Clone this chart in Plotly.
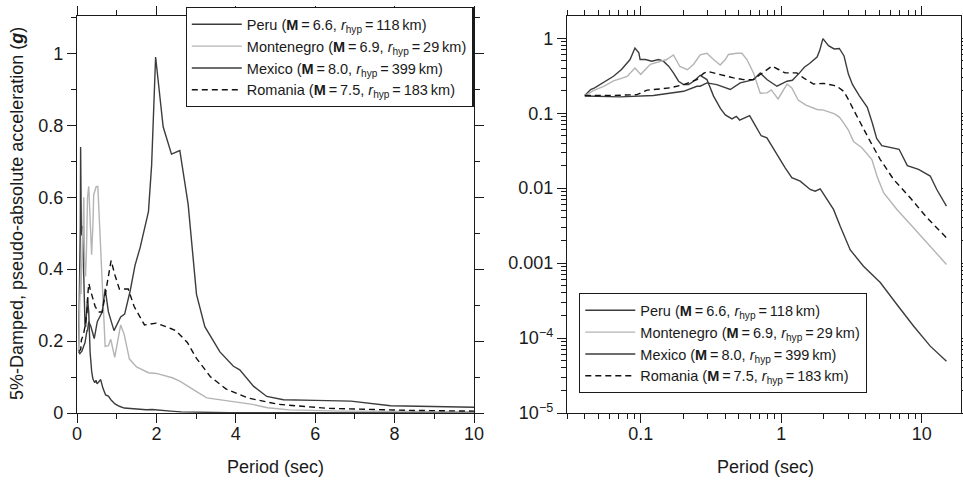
import plotly.graph_objects as go

# ---------------- data ----------------
peru_T = [0.040, 0.044, 0.047, 0.054, 0.064, 0.073, 0.084, 0.091, 0.097, 0.099, 0.108, 0.120,
          0.134, 0.145, 0.158, 0.171, 0.186, 0.202, 0.219, 0.238, 0.251, 0.265, 0.296, 0.330,
          0.370, 0.400, 0.446, 0.479, 0.506, 0.596, 0.650, 0.720, 0.791, 0.859, 0.957, 1.067,
          1.19, 1.365, 1.607, 1.745, 1.895, 2.056, 2.356, 2.63, 3.1, 3.85, 5.07, 6.66, 8.74,
          11.5, 15.0]
peru_A = [0.172, 0.207, 0.218, 0.254, 0.311, 0.383, 0.520, 0.740, 0.638, 0.520, 0.520, 0.494,
          0.520, 0.494, 0.424, 0.345, 0.267, 0.241, 0.241, 0.267, 0.296, 0.320, 0.281, 0.169,
          0.115, 0.095, 0.084, 0.091, 0.081, 0.093, 0.070, 0.050, 0.047, 0.0363, 0.0254, 0.0187,
          0.0138, 0.0124, 0.0096, 0.0091, 0.0098, 0.0077, 0.0052, 0.0031, 0.0015, 0.00091,
          0.00055, 0.00028, 0.000145, 0.000078, 0.000049]

mont_T = [0.040, 0.046, 0.055, 0.064, 0.072, 0.080, 0.091, 0.100, 0.117, 0.138, 0.153, 0.171,
          0.190, 0.215, 0.238, 0.265, 0.296, 0.330, 0.368, 0.400, 0.421, 0.484, 0.525, 0.570,
          0.635, 0.709, 0.791, 0.850, 0.950, 1.10, 1.19, 1.32, 1.50, 1.80, 2.00, 2.40, 2.60,
          2.78, 3.0, 3.27, 3.75, 4.42, 4.80, 5.35, 6.66, 8.74, 11.5, 15.0]
mont_A = [0.172, 0.200, 0.230, 0.270, 0.290, 0.310, 0.400, 0.330, 0.450, 0.490, 0.520, 0.600,
          0.420, 0.380, 0.450, 0.600, 0.630, 0.520, 0.440, 0.520, 0.607, 0.630, 0.630, 0.520,
          0.345, 0.185, 0.187, 0.205, 0.155, 0.245, 0.218, 0.150, 0.128, 0.112, 0.110, 0.098,
          0.088, 0.0745, 0.060, 0.042, 0.0346, 0.0241, 0.0145, 0.0087, 0.0052, 0.00297,
          0.00169, 0.00096]

mex_T = [0.040, 0.0715, 0.123, 0.162, 0.202, 0.251, 0.265, 0.296, 0.348, 0.434, 0.511, 0.635,
         0.709, 0.791, 0.932, 1.10, 1.20, 1.34, 1.46, 1.59, 1.80, 1.88, 1.98, 2.17, 2.38, 2.59,
         2.80, 3.01, 3.22, 3.60, 3.94, 4.10, 4.45, 4.78, 5.20, 6.00, 6.90, 7.90, 9.49, 11.5,
         12.8, 15.0]
mex_A = [0.170, 0.165, 0.172, 0.183, 0.196, 0.229, 0.229, 0.254, 0.241, 0.207, 0.254, 0.281,
         0.345, 0.281, 0.229, 0.267, 0.275, 0.340, 0.410, 0.460, 0.560, 0.690, 0.990, 0.796,
         0.720, 0.730, 0.580, 0.330, 0.240, 0.170, 0.130, 0.120, 0.074, 0.046, 0.037, 0.035,
         0.033, 0.020, 0.0178, 0.0145, 0.0096, 0.00575]

rom_T = [0.040, 0.061, 0.094, 0.111, 0.138, 0.162, 0.202, 0.230, 0.251, 0.280, 0.300, 0.330,
         0.368, 0.458, 0.540, 0.635, 0.709, 0.791, 0.859, 0.957, 1.067, 1.29, 1.44, 1.70, 2.00,
         2.36, 2.49, 2.78, 3.01, 3.36, 3.75, 4.30, 5.07, 6.30, 8.28, 10.9, 15.0]
rom_A = [0.172, 0.172, 0.177, 0.203, 0.211, 0.218, 0.241, 0.260, 0.280, 0.340, 0.360, 0.345,
         0.328, 0.296, 0.281, 0.281, 0.328, 0.383, 0.424, 0.383, 0.345, 0.345, 0.296, 0.245,
         0.250, 0.235, 0.229, 0.196, 0.152, 0.101, 0.067, 0.042, 0.0241, 0.0131, 0.00745,
         0.00403, 0.00218]

series = [
    ("Peru", "6.6", "118", peru_T, peru_A, "#3c3c3c", "solid"),
    ("Montenegro", "6.9", "29", mont_T, mont_A, "#b4b4b4", "solid"),
    ("Mexico", "8.0", "399", mex_T, mex_A, "#3c3c3c", "solid"),
    ("Romania", "7.5", "183", rom_T, rom_A, "#111111", "6px,4px"),
]

lin_xticks = [0, 2, 4, 6, 8, 10]
lin_yticks = [0, 0.2, 0.4, 0.6, 0.8, 1.0]
log_xticks = [0.1, 1, 10]
log_xtext = ["0.1", "1", "10"]
log_yticks = [1, 0.1, 0.01, 0.001, 1e-4, 1e-5]
log_ytext = ["1", "0.1", "0.01", "0.001", "10<sup>\u22124</sup>", "10<sup>\u22125</sup>"]

FONT = "Liberation Sans, Arial, Helvetica, sans-serif"
INK = "#1a1a1a"
TS = "\u2009"

W, H = 963, 480


def px(x):
    return x / W


def py(y):
    return 1 - y / H


fig = go.Figure()
for name, mag, r, T, A, col, dash in series:
    label = (f"{name} (<b>M</b>{TS}={TS}{mag}, <i>r</i><sub>hyp</sub>{TS}={TS}{r}{TS}km)")
    for xa, ya, lg in (("x", "y", "legend"), ("x2", "y2", "legend2")):
        fig.add_trace(go.Scatter(
            x=T, y=A, mode="lines", name=label, xaxis=xa, yaxis=ya, legend=lg,
            line=dict(color=col, width=1.4, dash=dash), showlegend=True,
            hoverinfo="skip"))

# log-axis minor tick positions
minor_x = [k * 10 ** e for e in (-2, -1, 0, 1) for k in range(2, 10)]
minor_y = [k * 10 ** e for e in (-5, -4, -3, -2, -1, 0) for k in range(2, 10)]

ydom = [py(413), py(16)]
axis_common = dict(showline=True, linecolor=INK, linewidth=1.3, mirror="ticks",
                   ticks="outside", ticklen=9, tickwidth=1.2, tickcolor=INK,
                   showgrid=False, zeroline=False, automargin=False,
                   tickfont=dict(family=FONT, size=18, color=INK))

fig.update_layout(
    width=W, height=H, paper_bgcolor="white", plot_bgcolor="white",
    margin=dict(l=0, r=0, t=0, b=0, autoexpand=False),
    xaxis=dict(domain=[px(77), px(474)], range=[0, 10], tickvals=lin_xticks,
               ticklabelstandoff=-5,
               minor=dict(dtick=1, ticks="outside", ticklen=5, tickcolor=INK, showgrid=False),
               anchor="y", **axis_common),
    yaxis=dict(domain=ydom, range=[0, 1.104], tickvals=lin_yticks,
               minor=dict(dtick=0.1, ticks="outside", ticklen=5, tickcolor=INK, showgrid=False),
               anchor="x", **axis_common),
    xaxis2=dict(domain=[px(567), px(960.5)], type="log", range=[-1.5246, 1.276],
                tickvals=log_xticks, ticktext=log_xtext, ticklabelstandoff=-5,
                minor=dict(tickvals=minor_x, ticks="outside", ticklen=5, tickcolor=INK, showgrid=False),
                anchor="y2", **axis_common),
    yaxis2=dict(domain=ydom, type="log", range=[-5, 0.297],
                tickvals=log_yticks, ticktext=log_ytext,
                minor=dict(tickvals=minor_y, ticks="outside", ticklen=5, tickcolor=INK, showgrid=False),
                anchor="x2", **axis_common),
    legend=dict(x=px(473.5), xanchor="right", y=py(7), yanchor="top",
                bgcolor="white", bordercolor=INK, borderwidth=1.3, itemwidth=50,
                font=dict(family=FONT, size=14.5, color=INK), tracegroupgap=0),
    legend2=dict(x=px(579), xanchor="left", y=py(293), yanchor="top",
                 bgcolor="white", bordercolor=INK, borderwidth=1.3, itemwidth=50,
                 font=dict(family=FONT, size=14.5, color=INK), tracegroupgap=0),
    annotations=[
        dict(text="Period (sec)", x=px((77 + 474) / 2), y=py(467), xref="paper", yref="paper",
             xanchor="center", yanchor="middle",
             showarrow=False, font=dict(family=FONT, size=18, color=INK)),
        dict(text="Period (sec)", x=px(765), y=py(467), xref="paper", yref="paper",
             xanchor="center", yanchor="middle",
             showarrow=False, font=dict(family=FONT, size=18, color=INK)),
        dict(text="5%-Damped, pseudo-absolute acceleration (<b><i>g</i></b>)",
             x=px(17), y=py(214), xref="paper", yref="paper", textangle=-90,
             xanchor="center", yanchor="middle",
             showarrow=False, font=dict(family=FONT, size=18, color=INK)),
    ],
)

# remove the browser's default 8px body margin so the figure sits at the page corner
fig.write_html("out.html", config={"displayModeBar": False},
               post_script="document.body.style.margin='0';")
